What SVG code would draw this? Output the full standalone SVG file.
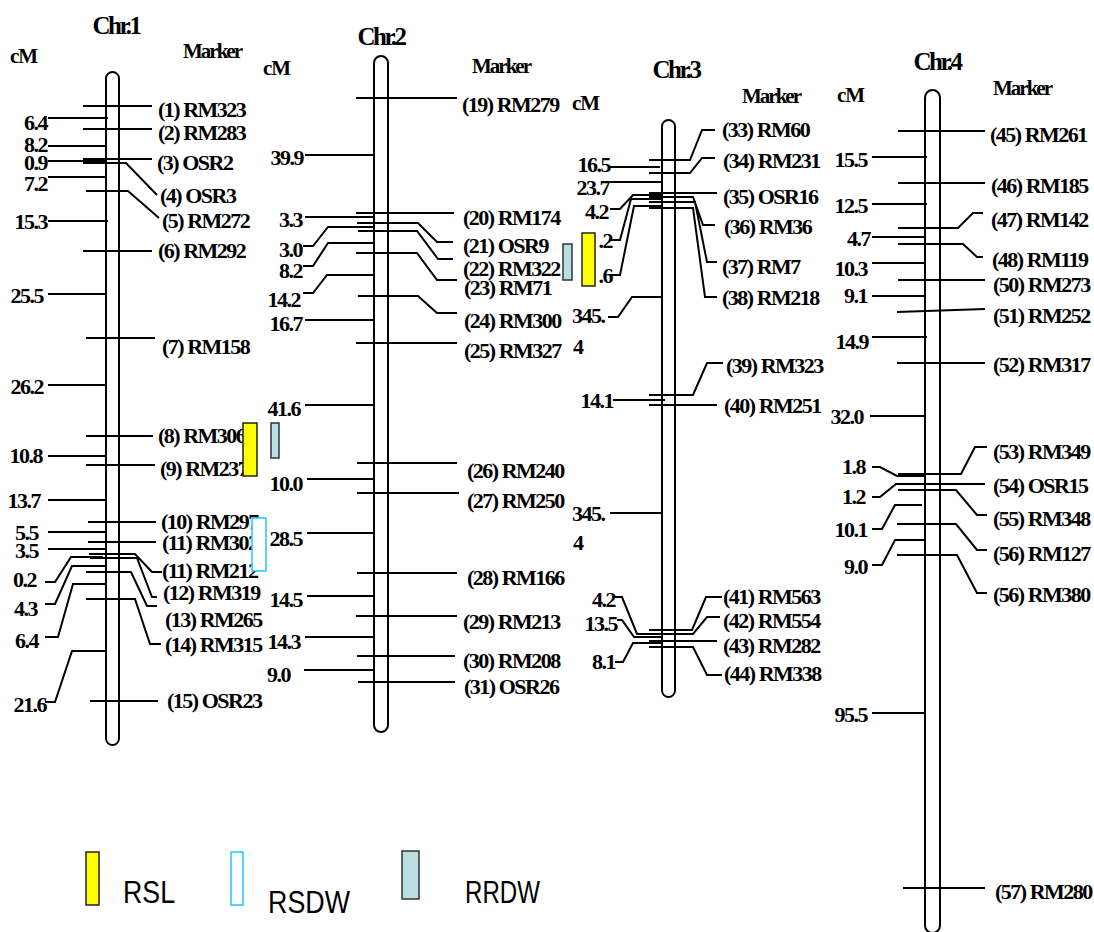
<svg xmlns="http://www.w3.org/2000/svg" width="1094" height="932" viewBox="0 0 1094 932">
<style>
.t{font-family:"Liberation Serif","Times New Roman",serif;font-weight:bold;font-size:22px;letter-spacing:-1.5px;fill:#000}
.e{text-anchor:end}
.ttl{font-size:25px;letter-spacing:-2.5px;text-anchor:middle}
.hd{font-size:21px;letter-spacing:-2px}
.cm{font-size:21px;letter-spacing:-1px}
.ln{fill:none;stroke:#000;stroke-width:2}
.rod{fill:#fff;stroke:#000;stroke-width:2}
.lg{font-family:"Liberation Sans",Arial,sans-serif;font-size:31px;fill:#000}
.rsl{fill:#ffff00;stroke:#222;stroke-width:1.5}
.rsdw{fill:#fff;stroke:#1ec8f5;stroke-width:1.5}
.rrdw{fill:#b9dfe1;stroke:#333;stroke-width:1.5}
</style>
<rect width="1094" height="932" fill="#fff"/>

<!-- rods -->
<g id="chr1">
<text class="t ttl" x="116" y="34">Chr.1</text>
<text class="t cm" x="10" y="63">cM</text>
<text class="t hd" x="183" y="58">Marker</text>
<rect class="rod" x="106" y="72" width="13" height="673" rx="6.5"/>
</g>
<g id="chr2">
<text class="t ttl" x="381" y="45">Chr.2</text>
<text class="t cm" x="263" y="75">cM</text>
<text class="t hd" x="472" y="73">Marker</text>
<rect class="rod" x="374" y="56" width="14" height="676" rx="7"/>
</g>
<g id="chr3">
<text class="t ttl" x="676" y="78">Chr.3</text>
<text class="t cm" x="572" y="110">cM</text>
<text class="t hd" x="742" y="103">Marker</text>
<rect class="rod" x="662" y="120" width="13" height="577" rx="6.5"/>
</g>
<g id="chr4">
<text class="t ttl" x="937" y="70">Chr.4</text>
<text class="t cm" x="837" y="102">cM</text>
<text class="t hd" x="993" y="95">Marker</text>
<rect class="rod" x="925" y="90" width="15" height="843" rx="7.5"/>
</g>

<!-- connectors -->
<g id="connectors" class="ln">
<!-- chr1 right -->
<path d="M83,106H152M83,129H152M83,159H152M83,163H126L157,195M86,191H128L159,218M83,251H152M86,338H155M86,436H153M86,465H155M88,522H156M88,542H156M89,554H135L152,572H162M90,558H137L152,597H157M86,572H131L147,606H157M86,599H135L150,644H161M90,701H158"/>
<!-- chr1 left -->
<path d="M48,118H108M48,146H106M48,161H106M48,177H106M48,221H108M48,294H106M48,385H106M48,456H106M48,500H106M48,532H106M48,549H106M45,582H55L71,557H103M45,604H55L72,566H105M45,637H58L73,584H105M45,702H55L72,651H105"/>
<!-- chr2 right -->
<path d="M356,98H457M356,213H454M357,223H418L437,242H453M358,231H417L438,259H453M356,253H417L437,280H457M358,296H418L437,313H457M356,343H457M357,463H457M357,493H459M357,573H457M356,616H457M357,656H455M358,682H455"/>
<!-- chr2 left -->
<path d="M305,155H374M305,217H374M303,246H313L328,227H374M303,266H313L328,243H374M303,293H313L327,275H374M305,320H374M305,405H374M307,479H374M307,533H374M307,596H374M305,637H374M304,670H374"/>
<!-- chr3 right -->
<path d="M649,160H690L702,130H715M649,173H690L702,158H715M649,193H717M649,197H693L703,225H715M649,202H695L707,262H717M649,208H693L705,297H717M649,395H693L707,363H723M649,405H717M649,630H692L706,597H722M649,634H693L707,617H720M649,641H717M649,647H693L707,675H722"/>
<!-- chr3 left -->
<path d="M610,167H660M610,182H662M610,209H620L633,195H662M610,240H620L631,199H662M610,275H620L634,206H662M608,317H618L632,297H662M613,400H665M610,513H663M615,597H622L637,634H663M617,620H622L634,637H663M615,662H623L633,643H663"/>
<!-- chr4 right -->
<path d="M898,131H985M898,183H985M898,228H958L973,213H983M898,244H963L977,257H983M898,280H985M897,312L985,309M897,363H985M898,474H961L975,447H987M895,484H985M898,490H956L977,515H987M897,524H956L977,550H987M897,555H957L977,593H987M903,888H985"/>
<!-- chr4 left -->
<path d="M872,157H927M872,204H927M872,237H925M872,263H925M872,296H925M872,337H927M870,416H925M872,467H880L897,476H926M872,497H880L896,484H923M872,529H882L895,505H922M872,565H882L895,540H925M872,713H925"/>
</g>

<!-- chr1 labels -->
<g id="chr1-labels">
<text class="t e" x="47" y="130">6.4</text>
<text class="t e" x="47" y="152">8.2</text>
<text class="t e" x="47" y="170">0.9</text>
<text class="t e" x="47" y="191">7.2</text>
<text class="t e" x="47" y="229">15.3</text>
<text class="t e" x="43" y="303">25.5</text>
<text class="t e" x="43" y="394">26.2</text>
<text class="t e" x="42" y="463">10.8</text>
<text class="t e" x="40" y="508">13.7</text>
<text class="t e" x="38" y="540">5.5</text>
<text class="t e" x="38" y="558">3.5</text>
<text class="t e" x="36" y="587">0.2</text>
<text class="t e" x="37" y="616">4.3</text>
<text class="t e" x="38" y="648">6.4</text>
<text class="t e" x="46" y="712">21.6</text>
<text class="t" x="158" y="117">(1) RM323</text>
<text class="t" x="158" y="140">(2) RM283</text>
<text class="t" x="157" y="170">(3) OSR2</text>
<text class="t" x="160" y="203">(4) OSR3</text>
<text class="t" x="162" y="228">(5) RM272</text>
<text class="t" x="158" y="258">(6) RM292</text>
<text class="t" x="162" y="354">(7) RM158</text>
<text class="t" x="158" y="443">(8) RM306</text>
<text class="t" x="160" y="476">(9) RM237</text>
<text class="t" x="161" y="529">(10) RM297</text>
<text class="t" x="162" y="550">(11) RM302</text>
<text class="t" x="162" y="578">(11) RM212</text>
<text class="t" x="163" y="600">(12) RM319</text>
<text class="t" x="165" y="627">(13) RM265</text>
<text class="t" x="165" y="652">(14) RM315</text>
<text class="t" x="167" y="708">(15) OSR23</text>
</g>

<!-- chr2 labels -->
<g id="chr2-labels">
<text class="t e" x="303" y="165">39.9</text>
<text class="t e" x="302" y="227">3.3</text>
<text class="t e" x="302" y="257">3.0</text>
<text class="t e" x="302" y="278">8.2</text>
<text class="t e" x="300" y="307">14.2</text>
<text class="t e" x="302" y="331">16.7</text>
<text class="t e" x="300" y="416">41.6</text>
<text class="t e" x="302" y="491">10.0</text>
<text class="t e" x="302" y="546">28.5</text>
<text class="t e" x="302" y="607">14.5</text>
<text class="t e" x="300" y="649">14.3</text>
<text class="t e" x="290" y="682">9.0</text>
<text class="t" x="462" y="112">(19) RM279</text>
<text class="t" x="463" y="225">(20) RM174</text>
<text class="t" x="463" y="253">(21) OSR9</text>
<text class="t" x="463" y="276">(22) RM322</text>
<text class="t" x="464" y="295">(23) RM71</text>
<text class="t" x="464" y="328">(24) RM300</text>
<text class="t" x="464" y="358">(25) RM327</text>
<text class="t" x="467" y="478">(26) RM240</text>
<text class="t" x="467" y="508">(27) RM250</text>
<text class="t" x="467" y="585">(28) RM166</text>
<text class="t" x="463" y="629">(29) RM213</text>
<text class="t" x="463" y="668">(30) RM208</text>
<text class="t" x="464" y="694">(31) OSR26</text>
</g>

<!-- chr3 labels -->
<g id="chr3-labels">
<text class="t e" x="610" y="172">16.5</text>
<text class="t e" x="609" y="195">23.7</text>
<text class="t e" x="608" y="219">4.2</text>
<text class="t e" x="612" y="248">.2</text>
<text class="t e" x="612" y="283">.6</text>
<text class="t" x="572" y="323">345.</text>
<text class="t" x="573" y="354">4</text>
<text class="t e" x="613" y="408">14.1</text>
<text class="t" x="572" y="521">345.</text>
<text class="t" x="573" y="550">4</text>
<text class="t e" x="615" y="607">4.2</text>
<text class="t e" x="617" y="631">13.5</text>
<text class="t e" x="615" y="669">8.1</text>
<text class="t" x="722" y="137">(33) RM60</text>
<text class="t" x="723" y="168">(34) RM231</text>
<text class="t" x="723" y="204">(35) OSR16</text>
<text class="t" x="724" y="234">(36) RM36</text>
<text class="t" x="722" y="274">(37) RM7</text>
<text class="t" x="722" y="305">(38) RM218</text>
<text class="t" x="726" y="373">(39) RM323</text>
<text class="t" x="724" y="413">(40) RM251</text>
<text class="t" x="723" y="604">(41) RM563</text>
<text class="t" x="723" y="628">(42) RM554</text>
<text class="t" x="723" y="653">(43) RM282</text>
<text class="t" x="724" y="681">(44) RM338</text>
</g>

<!-- chr4 labels -->
<g id="chr4-labels">
<text class="t e" x="867" y="167">15.5</text>
<text class="t e" x="867" y="213">12.5</text>
<text class="t e" x="870" y="246">4.7</text>
<text class="t e" x="867" y="276">10.3</text>
<text class="t e" x="867" y="303">9.1</text>
<text class="t e" x="868" y="349">14.9</text>
<text class="t e" x="863" y="424">32.0</text>
<text class="t e" x="865" y="474">1.8</text>
<text class="t e" x="865" y="504">1.2</text>
<text class="t e" x="867" y="537">10.1</text>
<text class="t e" x="867" y="574">9.0</text>
<text class="t e" x="867" y="722">95.5</text>
<text class="t" x="990" y="142">(45) RM261</text>
<text class="t" x="991" y="193">(46) RM185</text>
<text class="t" x="991" y="227">(47) RM142</text>
<text class="t" x="992" y="267">(48) RM119</text>
<text class="t" x="993" y="292">(50) RM273</text>
<text class="t" x="993" y="323">(51) RM252</text>
<text class="t" x="993" y="372">(52) RM317</text>
<text class="t" x="993" y="459">(53) RM349</text>
<text class="t" x="993" y="493">(54) OSR15</text>
<text class="t" x="993" y="526">(55) RM348</text>
<text class="t" x="993" y="561">(56) RM127</text>
<text class="t" x="993" y="602">(56) RM380</text>
<text class="t" x="995" y="899">(57) RM280</text>
</g>

<!-- QTL boxes -->
<g id="qtl">
<rect class="rsl" x="243" y="423" width="14" height="53"/>
<rect class="rrdw" x="271" y="423" width="8" height="35"/>
<rect class="rsdw" x="252" y="518" width="14" height="53"/>
<rect class="rrdw" x="563" y="244" width="9" height="36"/>
<rect class="rsl" x="582" y="233" width="13" height="53"/>
</g>

<!-- legend -->
<g id="legend">
<rect class="rsl" x="86" y="852" width="13" height="53"/>
<text class="lg" x="123" y="903" textLength="52" lengthAdjust="spacingAndGlyphs">RSL</text>
<rect class="rsdw" x="231" y="852" width="12" height="53"/>
<text class="lg" x="268" y="913" textLength="82" lengthAdjust="spacingAndGlyphs">RSDW</text>
<rect class="rrdw" x="402" y="851" width="17" height="48"/>
<text class="lg" x="465" y="903" textLength="75" lengthAdjust="spacingAndGlyphs">RRDW</text>
</g>
</svg>
